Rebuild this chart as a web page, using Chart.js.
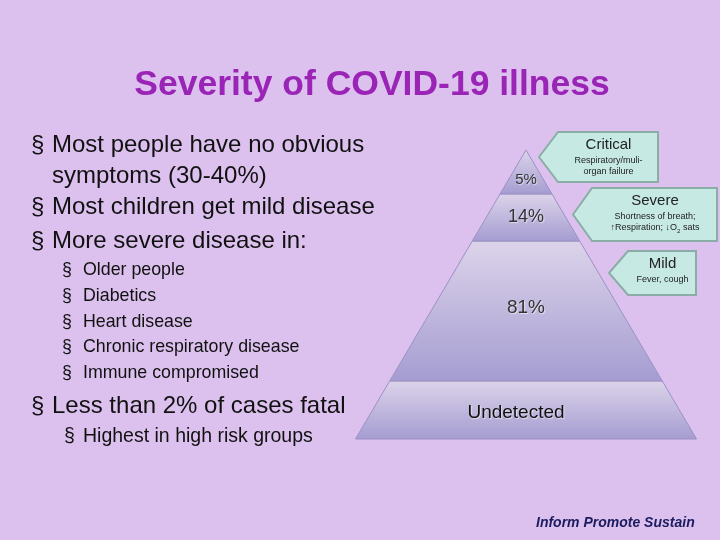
<!DOCTYPE html><html><head><meta charset="utf-8">
<script src="https://cdn.jsdelivr.net/npm/chart.js@4"></script>
<style>
body{margin:0;width:720px;height:540px;background:#dcc1ee;font-family:"Liberation Sans",Arial,sans-serif;position:relative;overflow:hidden}
#c{position:absolute;left:0;top:0}
.t{position:absolute;white-space:nowrap;color:#111}
.t span{position:absolute}
.co{position:absolute;text-align:center;color:#222;line-height:1}
</style></head><body>
<canvas id="c" width="720" height="540"></canvas>
<div class="t" style="left:0;width:744px;top:63px;text-align:center;font-size:35.5px;font-weight:bold;color:#9a24b6">Severity of COVID-19 illness</div>
<div class="t" style="left:31px;top:128px;font-size:24px;line-height:31px">§<span style="left:21px;top:0">Most people have no obvious<br>symptoms (30-40%)</span></div>
<div class="t" style="left:31px;top:192px;font-size:24px">§<span style="left:21px;top:0">Most children get mild disease</span></div>
<div class="t" style="left:31px;top:226px;font-size:24px">§<span style="left:21px;top:0">More severe disease in:</span></div>
<div id="sub"></div>
<div class="t" style="left:31px;top:391px;font-size:24px">§<span style="left:21px;top:0">Less than 2% of cases fatal</span></div>
<div class="t" style="left:64px;top:424px;font-size:19.5px">§<span style="left:19px;top:0">Highest in high risk groups</span></div>
<div class="t" style="left:536px;top:514px;font-size:14px;font-weight:bold;font-style:italic;color:#1b1b5e">Inform Promote Sustain</div>
<div id="lbl"></div>
<script>
const subItems=['Older people','Diabetics','Heart disease','Chronic respiratory disease','Immune compromised'];
const layerLabels=['5%','14%','81%','Undetected'];
const layerBounds=[0,0.152,0.315,0.799,1.0];
const calloutTitles=['Critical','Severe','Mild'];
const calloutTexts=['Respiratory/muli-<br>organ failure','Shortness of breath;<br>↑Respiration; ↓O<sub style="font-size:6px">2</sub> sats','Fever, cough'];

let h='';subItems.forEach((s,i)=>{h+=`<div class="t" style="left:62px;top:${259+i*25.8}px;font-size:17.8px">§<span style="left:21px;top:0">${s}</span></div>`});
document.getElementById('sub').innerHTML=h;

const apex={x:526,y:150},H=289,slope=0.59;
function layerPoly(i){const y0=apex.y+layerBounds[i]*H,y1=apex.y+layerBounds[i+1]*H;
 const w0=(y0-apex.y)*slope,w1=(y1-apex.y)*slope;
 return [{x:apex.x-w0,y:y0},{x:apex.x+w0,y:y0},{x:apex.x+w1,y:y1},{x:apex.x-w1,y:y1},{x:apex.x-w0,y:y0}];}
const ds=layerLabels.map((l,i)=>({label:l,data:layerPoly(i),showLine:true,pointRadius:0,borderWidth:1,borderColor:'#9a90c4',tension:0,
 fill:{target:'shape'},
 backgroundColor:(ctx)=>{const ch=ctx.chart;if(!ch.chartArea)return '#c0b6dc';const ys=ch.scales.y;
  const g=ch.ctx.createLinearGradient(0,ys.getPixelForValue(apex.y+layerBounds[i]*H),0,ys.getPixelForValue(apex.y+layerBounds[i+1]*H));
  g.addColorStop(0,'#dcd3ea');g.addColorStop(1,'#a59dd1');return g;}}));
new Chart(document.getElementById('c'),{type:'scatter',data:{datasets:ds},options:{animation:false,responsive:false,
 layout:{padding:0},plugins:{legend:{display:false},tooltip:{enabled:false}},
 scales:{x:{type:'linear',min:0,max:720,display:false},y:{type:'linear',min:0,max:540,reverse:true,display:false}}}});

let lh='';const fs=[15,18,19,19];const yo=[8,0,0,3];
layerLabels.forEach((l,i)=>{const y=apex.y+(layerBounds[i]+layerBounds[i+1])/2*H+yo[i]-(i==2?3:0);
 lh+=`<div class="t" style="left:${(i==3?516:526)-60}px;width:120px;text-align:center;top:${y-fs[i]/2-2}px;font-size:${fs[i]}px;color:${i==3?'#111':'#333'};text-shadow:1px 1px 1px rgba(255,255,255,0.6)">${l}</div>`;});
const boxes=[[538,131,121,52],[572,187,146,55],[608,250,89,46]];
boxes.forEach((b,i)=>{const [x,y,w,hh]=b;const a=20;
 lh+=`<svg style="position:absolute;left:${x}px;top:${y}px" width="${w}" height="${hh}"><polygon points="1,${hh/2} ${a},1 ${w-1},1 ${w-1},${hh-1} ${a},${hh-1}" fill="#c6e9e4" stroke="#8aaea6" stroke-width="2"/></svg>`;
 lh+=`<div class="co" style="left:${x+a}px;width:${w-a}px;top:${y+5}px"><div style="font-size:15px">${calloutTitles[i]}</div><div style="font-size:9px;margin-top:4px;line-height:1.2">${calloutTexts[i]}</div></div>`;});
document.getElementById('lbl').innerHTML=lh;
</script></body></html>
